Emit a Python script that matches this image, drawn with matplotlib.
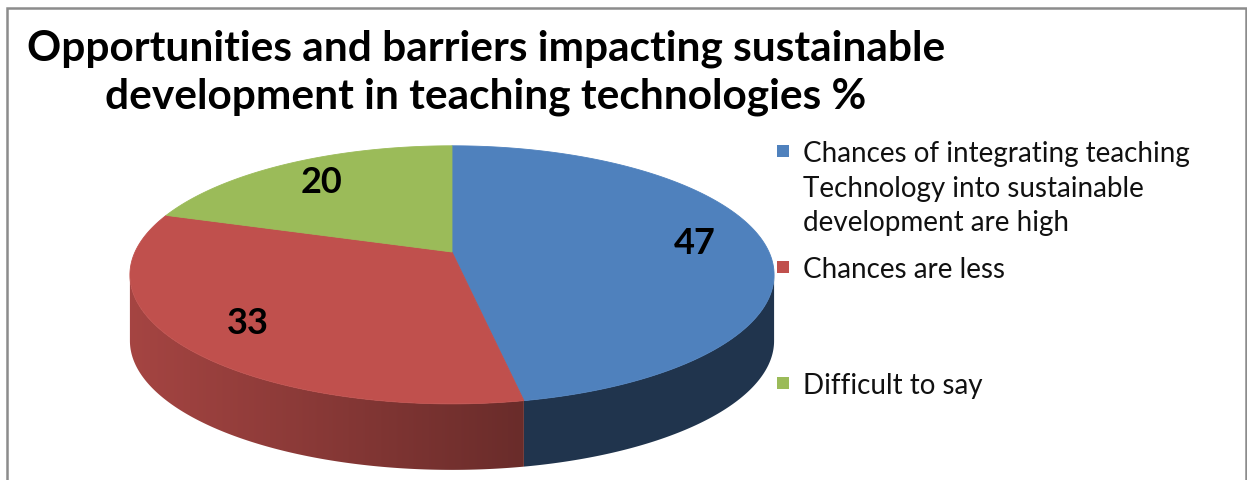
import numpy as np
import matplotlib
matplotlib.use("Agg")
from matplotlib import pyplot as plt
from matplotlib.patches import Polygon, Rectangle
from matplotlib.colors import to_rgb

# Survey shares (%)
categories = [
    "Chances of integrating teaching\nTechnology into sustainable\ndevelopment are high",
    "Chances are less",
    "Difficult to say",
]
values = [47, 33, 20]
value_labels = ["47", "33", "20"]
colors = ["#4F81BD", "#C0504D", "#9BBB59"]
# lightness of the side wall at its left / right end, per slice
side_shade = [(0.41, 0.41), (0.86, 0.55), (0.70, 0.70)]

title = "Opportunities and barriers impacting sustainable\ndevelopment in teaching technologies %"

# pie geometry in pixels (perspective disc)
CX, CY = 452, 253
A, B = 317, 125
D = 5.65
DEPTH = 66


def proj(theta, r=1.0):
    """theta clockwise from 12 o'clock, radians -> screen x, y"""
    u = r * np.sin(theta)
    v = -r * np.cos(theta)
    w = D / (D - v)
    return CX + A * u * w, CY + B * v * w


def shade(c, f):
    return np.clip(np.array(to_rgb(c)) * f, 0, 1)


fig = plt.figure(figsize=(12.47, 4.81), dpi=100)
ax = fig.add_axes([0, 0, 1, 1])
ax.set_xlim(0, 1247)
ax.set_ylim(481, 0)
ax.axis("off")

# chart frame
ax.plot([7, 7, 1245.5, 1245.5], [481, 8.5, 8.5, 481], color="#8c8c8c", lw=1.8,
        solid_joinstyle="miter")

fracs = np.array(values, dtype=float) / np.sum(values)
edges = np.concatenate([[0], np.cumsum(fracs)]) * 2 * np.pi

# visible part of the side wall lies between the extreme left/right points
th_r = np.arccos(-1.0 / D)
th_l = 2 * np.pi - th_r

for i in range(len(values)):
    s, e = max(edges[i], th_r), min(edges[i + 1], th_l)
    if e <= s:
        continue
    th = np.linspace(s, e, 200)
    xs, ys = proj(th)
    outline = list(zip(xs, ys)) + list(zip(xs[::-1], ys[::-1] + DEPTH))
    wall = Polygon(outline, closed=True, facecolor="none", edgecolor="none")
    ax.add_patch(wall)
    # horizontal gradient clipped to the wall
    x0, x1 = xs.min(), xs.max()
    left, right = side_shade[i]
    t = np.linspace(0, 1, 256)
    grad = np.array([shade(colors[i], left + (right - left) * tt) for tt in t])[None, :, :]
    im = ax.imshow(grad, extent=(x0 - 1, x1 + 1, ys.max() + DEPTH + 2, ys.min() - 2),
                   aspect="auto", interpolation="bilinear", zorder=1)
    im.set_clip_path(wall)

# top face
for i in range(len(values)):
    th = np.linspace(edges[i], edges[i + 1], 200)
    xs, ys = proj(th)
    pts = [(CX, CY)] + list(zip(xs, ys))
    ax.add_patch(Polygon(pts, closed=True, facecolor=colors[i], edgecolor=colors[i],
                         lw=0.6, zorder=2))

# value labels
for i, lab in enumerate(value_labels):
    mid = (edges[i] + edges[i + 1]) / 2
    lx, ly = proj(mid, 0.78)
    ax.text(lx, ly, lab, ha="center", va="center", fontsize=26, fontweight="bold",
            family="Lato", color="black", zorder=3)

ax.text(486, 73, title, ha="center", va="center", fontsize=30.5, fontweight="bold",
        family="Lato", color="black", linespacing=1.3)

# legend: marker sits on the first line of each entry
for i, lab in enumerate(categories):
    y = 152 + 116 * i
    ax.add_patch(Rectangle((777, y - 6), 12, 12, facecolor=colors[i], edgecolor="none"))
    for j, line in enumerate(lab.split("\n")):
        ax.text(803, y + 34.5 * j, line, ha="left", va="center_baseline", fontsize=20,
                family="Lato", color="#111111")

fig.savefig("out.png", dpi=100)
